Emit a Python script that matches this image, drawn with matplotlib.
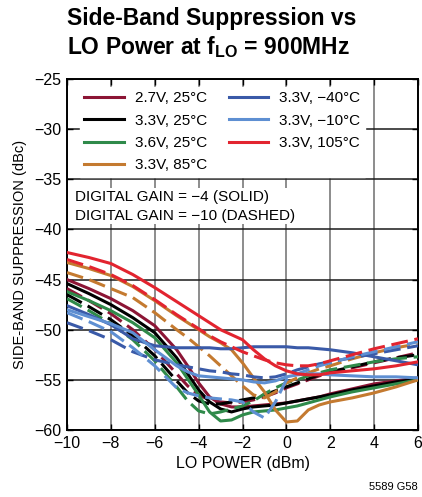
import matplotlib
matplotlib.use('Agg')
import matplotlib.pyplot as plt

plt.rcParams['font.family'] = ['Liberation Sans', 'DejaVu Sans']
plt.rcParams['mathtext.fontset'] = 'custom'
plt.rcParams['mathtext.rm'] = 'Liberation Sans'
plt.rcParams['mathtext.bf'] = 'Liberation Sans:bold'
plt.rcParams['axes.unicode_minus'] = True

# LO power (dBm)
lo_power = [-10, -9, -8, -7, -6, -5, -4.5, -4, -3.5, -3, -2.5, -2, -1.5, -1, -0.5, 0, 0.5, 1, 1.5, 2, 3, 4, 5, 6]

# side-band suppression (dBc), digital gain = -4 (solid)
v27_25_solid = [-45.0, -45.9, -46.9, -48.1, -49.6, -52.0, -53.6, -55.3, -56.7, -57.4, -57.7, -57.7, -57.6, -57.5, -57.4, -57.3, -57.1, -56.9, -56.7, -56.4, -55.9, -55.4, -55.1, -54.8]
v33_25_solid = [-45.4, -46.4, -47.5, -48.8, -50.3, -52.8, -54.4, -56.0, -57.2, -57.9, -58.2, -57.9, -57.7, -57.6, -57.5, -57.3, -57.1, -56.9, -56.7, -56.5, -56.0, -55.6, -55.2, -54.9]
v36_25_solid = [-46.2, -47.1, -48.1, -49.3, -50.8, -53.3, -54.9, -56.5, -58.2, -59.1, -59.0, -58.5, -58.2, -58.1, -58.0, -57.8, -57.6, -57.3, -57.0, -56.7, -56.2, -55.8, -55.4, -55.0]
v33_85_solid = [-43.3, -43.9, -44.6, -45.7, -47.1, -48.6, -49.3, -50.0, -50.7, -51.3, -52.0, -53.3, -54.8, -56.2, -58.0, -59.2, -59.1, -58.0, -57.5, -57.2, -56.8, -56.3, -55.7, -55.0]
v33_m40_solid = [-47.6, -48.5, -49.5, -50.9, -51.6, -51.8, -51.8, -51.8, -51.8, -51.9, -51.9, -51.8, -51.7, -51.7, -51.7, -51.7, -51.8, -51.8, -51.9, -52.0, -52.3, -52.7, -53.1, -53.5]
v33_m10_solid = [-48.0, -48.7, -49.4, -50.3, -52.0, -53.6, -54.2, -54.6, -54.7, -54.8, -54.9, -55.0, -55.2, -55.3, -55.1, -54.7, -54.5, -54.4, -54.4, -54.5, -54.6, -54.7, -54.7, -54.8]
v33_105_solid = [-42.3, -42.8, -43.4, -44.5, -45.8, -47.2, -47.9, -48.6, -49.3, -50.0, -50.5, -51.0, -52.0, -52.9, -53.6, -54.1, -54.4, -54.5, -54.5, -54.3, -54.1, -53.9, -53.6, -53.2]

# digital gain = -10 (dashed)
v27_25_dash = [-45.9, -47.1, -48.4, -50.0, -52.0, -54.4, -55.6, -56.5, -57.0, -57.2, -57.3, -57.2, -57.0, -56.7, -56.3, -55.8, -55.4, -55.0, -54.6, -54.3, -53.8, -53.3, -52.8, -52.3]
v33_25_dash = [-46.5, -47.7, -49.0, -50.6, -52.6, -55.1, -56.3, -57.1, -57.4, -57.4, -57.2, -57.0, -56.8, -56.5, -56.1, -55.7, -55.3, -54.9, -54.5, -54.2, -53.7, -53.2, -52.8, -52.5]
v36_25_dash = [-46.9, -48.1, -49.4, -51.0, -53.1, -55.7, -57.1, -58.1, -58.4, -58.2, -57.9, -57.6, -57.1, -56.4, -55.8, -55.3, -55.0, -54.6, -54.3, -54.0, -53.6, -53.2, -52.9, -52.7]
v33_85_dash = [-44.3, -45.0, -45.9, -46.8, -48.3, -50.0, -50.8, -51.7, -52.6, -53.6, -54.6, -55.6, -56.5, -56.8, -56.2, -55.3, -54.8, -54.3, -53.9, -53.6, -52.9, -52.3, -51.8, -51.4]
v33_m40_dash = [-49.3, -50.1, -51.0, -52.2, -53.0, -53.5, -53.7, -53.9, -54.1, -54.2, -54.4, -54.5, -54.7, -54.8, -54.7, -54.4, -54.0, -53.7, -53.4, -53.2, -52.8, -52.4, -52.0, -51.6]
v33_m10_dash = [-48.3, -49.2, -50.2, -51.8, -53.6, -55.8, -56.3, -56.6, -56.8, -56.9, -57.0, -57.2, -58.2, -58.8, -57.2, -55.0, -54.4, -54.0, -53.6, -53.3, -52.7, -52.2, -51.7, -51.2]
v33_105_dash = [-43.0, -43.7, -44.5, -45.6, -47.0, -48.5, -49.2, -49.9, -50.6, -51.2, -51.7, -52.2, -52.6, -53.0, -53.3, -53.5, -53.6, -53.6, -53.4, -53.1, -52.5, -51.9, -51.4, -50.9]

labels = ['2.7V, 25°C', '3.3V, 25°C', '3.6V, 25°C', '3.3V, 85°C', '3.3V, −40°C', '3.3V, −10°C', '3.3V, 105°C']
colors = ['#8c1535', '#000000', '#2f8a4a', '#c47a30', '#3a5aa8', '#5e8fd2', '#e2242f']
solid = [v27_25_solid, v33_25_solid, v36_25_solid, v33_85_solid, v33_m40_solid, v33_m10_solid, v33_105_solid]
dashed = [v27_25_dash, v33_25_dash, v36_25_dash, v33_85_dash, v33_m40_dash, v33_m10_dash, v33_105_dash]

fig = plt.figure(figsize=(4.22, 4.97), dpi=100)
ax = fig.add_axes([67 / 422, 1 - 430 / 497, 351 / 422, 351 / 497])

lw = 2.2
handles = []
for lab, c, ys, yd in zip(labels, colors, solid, dashed):
    ax.plot(lo_power, yd, color=c, linewidth=lw, dashes=(5.5, 2.2), zorder=3)
    h, = ax.plot(lo_power, ys, color=c, linewidth=lw, zorder=3, label=lab)
    handles.append(h)

ax.set_xlim(-10, 6)
ax.set_ylim(-60, -25)
ax.set_xticks(range(-10, 7, 2))
ax.set_yticks(range(-60, -24, 5))
ax.xaxis.grid(True, color='#6e6e6e', linewidth=1.1)
ax.yaxis.grid(True, color='#1a1a1a', linewidth=1.1)
ax.set_axisbelow(True)
for s in ax.spines.values():
    s.set_linewidth(1.4)
ax.tick_params(direction='in', length=4, width=1, labelsize=11.5, pad=4, top=True, right=True)

ax.set_xlabel('LO POWER (dBm)', fontsize=11.5, labelpad=4)
ax.set_ylabel('SIDE-BAND SUPPRESSION (dBc)', fontsize=10.5, labelpad=5)

leg = ax.legend(handles=handles, ncol=2, loc='upper left', bbox_to_anchor=(0.015, 1.0),
                fontsize=11, handlelength=2.6, handletextpad=0.7, columnspacing=1.4,
                labelspacing=0.55, borderpad=0.3, frameon=True, fancybox=False)
leg.get_frame().set_facecolor('white')
leg.get_frame().set_edgecolor('white')
leg.get_frame().set_alpha(1)

ax.text(0.022, 0.685, 'DIGITAL GAIN = −4 (SOLID)\nDIGITAL GAIN = −10 (DASHED)', transform=ax.transAxes,
        fontsize=11, ha='left', va='top', linespacing=1.5, zorder=6,
        bbox=dict(facecolor='white', edgecolor='none', pad=1))

fig.text(67 / 422, 1 - 19 / 497, 'Side-Band Suppression vs', fontsize=16.5, fontweight='bold', ha='left', va='center')
fig.text(67 / 422, 1 - 47 / 497, r'LO Power at f$_{\mathbf{LO}}$ = 900MHz', fontsize=16.5, fontweight='bold', ha='left', va='center')
fig.text(418 / 422, 1 - 487 / 497, '5589 G58', fontsize=8, ha='right', va='center')

fig.savefig('out.png', dpi=100)
